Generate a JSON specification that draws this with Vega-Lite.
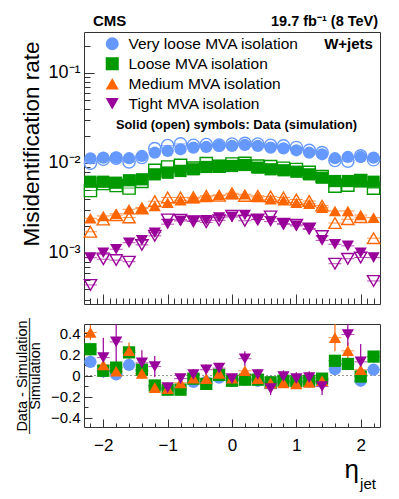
{
  "$schema": "https://vega.github.io/schema/vega-lite/v6.json",
  "background": "white",
  "padding": {"left": 13, "top": 13, "right": 5, "bottom": 0},
  "spacing": 20,
  "bounds": "flush",
  "resolve": {"scale": {"color": "independent", "shape": "independent"}, "legend": {"color": "independent", "shape": "independent"}},
  "config": {
    "font": "Liberation Sans",
    "view": {"stroke": "#333333", "strokeWidth": 1},
    "axis": {"grid": false, "domain": false, "tickColor": "#333333", "labelColor": "black", "titleColor": "black", "titleFontWeight": "normal"}
  },
  "datasets": {
    "rates": [
      {"eta": -2.2, "iso": "VL", "data": 0.01127, "sim": 0.00997},
      {"eta": -2.0, "iso": "VL", "data": 0.01145, "sim": 0.01101},
      {"eta": -1.8, "iso": "VL", "data": 0.01145, "sim": 0.01134},
      {"eta": -1.6, "iso": "VL", "data": 0.0113, "sim": 0.01027},
      {"eta": -1.4, "iso": "VL", "data": 0.01196, "sim": 0.0115},
      {"eta": -1.2, "iso": "VL", "data": 0.013, "sim": 0.01444},
      {"eta": -1.0, "iso": "VL", "data": 0.0136, "sim": 0.01563},
      {"eta": -0.8, "iso": "VL", "data": 0.0142, "sim": 0.01632},
      {"eta": -0.6, "iso": "VL", "data": 0.0148, "sim": 0.01574},
      {"eta": -0.4, "iso": "VL", "data": 0.01507, "sim": 0.01603},
      {"eta": -0.2, "iso": "VL", "data": 0.01545, "sim": 0.01577},
      {"eta": 0.0, "iso": "VL", "data": 0.01545, "sim": 0.01626},
      {"eta": 0.2, "iso": "VL", "data": 0.01585, "sim": 0.01651},
      {"eta": 0.4, "iso": "VL", "data": 0.01545, "sim": 0.01626},
      {"eta": 0.6, "iso": "VL", "data": 0.0148, "sim": 0.01574},
      {"eta": 0.8, "iso": "VL", "data": 0.01456, "sim": 0.01549},
      {"eta": 1.0, "iso": "VL", "data": 0.01384, "sim": 0.01488},
      {"eta": 1.2, "iso": "VL", "data": 0.013, "sim": 0.01383},
      {"eta": 1.4, "iso": "VL", "data": 0.0125, "sim": 0.01302},
      {"eta": 1.6, "iso": "VL", "data": 0.0113, "sim": 0.01066},
      {"eta": 1.8, "iso": "VL", "data": 0.01166, "sim": 0.0105},
      {"eta": 2.0, "iso": "VL", "data": 0.01166, "sim": 0.012},
      {"eta": 2.2, "iso": "VL", "data": 0.01145, "sim": 0.01085},
      {"eta": -2.2, "iso": "L", "data": 0.00619, "sim": 0.00495},
      {"eta": -2.0, "iso": "L", "data": 0.00619, "sim": 0.00592},
      {"eta": -1.8, "iso": "L", "data": 0.00604, "sim": 0.00562},
      {"eta": -1.6, "iso": "L", "data": 0.00643, "sim": 0.00527},
      {"eta": -1.4, "iso": "L", "data": 0.00659, "sim": 0.00625},
      {"eta": -1.2, "iso": "L", "data": 0.00748, "sim": 0.00827},
      {"eta": -1.0, "iso": "L", "data": 0.0078, "sim": 0.00902},
      {"eta": -0.8, "iso": "L", "data": 0.00815, "sim": 0.00942},
      {"eta": -0.6, "iso": "L", "data": 0.00851, "sim": 0.00877},
      {"eta": -0.4, "iso": "L", "data": 0.00903, "sim": 0.00982},
      {"eta": -0.2, "iso": "L", "data": 0.00926, "sim": 0.00921},
      {"eta": 0.0, "iso": "L", "data": 0.00926, "sim": 0.00975},
      {"eta": 0.2, "iso": "L", "data": 0.0095, "sim": 0.0099},
      {"eta": 0.4, "iso": "L", "data": 0.00887, "sim": 0.00924},
      {"eta": 0.6, "iso": "L", "data": 0.00851, "sim": 0.0091},
      {"eta": 0.8, "iso": "L", "data": 0.0083, "sim": 0.00874},
      {"eta": 1.0, "iso": "L", "data": 0.008, "sim": 0.00847},
      {"eta": 1.2, "iso": "L", "data": 0.00748, "sim": 0.00787},
      {"eta": 1.4, "iso": "L", "data": 0.00687, "sim": 0.00708},
      {"eta": 1.6, "iso": "L", "data": 0.0063, "sim": 0.00553},
      {"eta": 1.8, "iso": "L", "data": 0.0063, "sim": 0.00568},
      {"eta": 2.0, "iso": "L", "data": 0.0063, "sim": 0.00636},
      {"eta": 2.2, "iso": "L", "data": 0.00619, "sim": 0.00525},
      {"eta": -2.2, "iso": "M", "data": 0.00243, "sim": 0.00172},
      {"eta": -2.0, "iso": "M", "data": 0.00258, "sim": 0.00235},
      {"eta": -1.8, "iso": "M", "data": 0.00273, "sim": 0.00263},
      {"eta": -1.6, "iso": "M", "data": 0.00306, "sim": 0.00248},
      {"eta": -1.4, "iso": "M", "data": 0.00319, "sim": 0.00313},
      {"eta": -1.2, "iso": "M", "data": 0.00333, "sim": 0.00376},
      {"eta": -1.0, "iso": "M", "data": 0.00362, "sim": 0.00414},
      {"eta": -0.8, "iso": "M", "data": 0.00385, "sim": 0.00414},
      {"eta": -0.6, "iso": "M", "data": 0.00406, "sim": 0.00416},
      {"eta": -0.4, "iso": "M", "data": 0.00419, "sim": 0.00432},
      {"eta": -0.2, "iso": "M", "data": 0.00441, "sim": 0.00432},
      {"eta": 0.0, "iso": "M", "data": 0.00449, "sim": 0.00461},
      {"eta": 0.2, "iso": "M", "data": 0.00449, "sim": 0.0043},
      {"eta": 0.4, "iso": "M", "data": 0.00419, "sim": 0.00432},
      {"eta": 0.6, "iso": "M", "data": 0.00395, "sim": 0.00425},
      {"eta": 0.8, "iso": "M", "data": 0.00385, "sim": 0.00414},
      {"eta": 1.0, "iso": "M", "data": 0.00362, "sim": 0.00393},
      {"eta": 1.2, "iso": "M", "data": 0.00353, "sim": 0.00378},
      {"eta": 1.4, "iso": "M", "data": 0.00319, "sim": 0.00336},
      {"eta": 1.6, "iso": "M", "data": 0.00293, "sim": 0.00215},
      {"eta": 1.8, "iso": "M", "data": 0.00293, "sim": 0.00237},
      {"eta": 2.0, "iso": "M", "data": 0.00264, "sim": 0.0025},
      {"eta": 2.2, "iso": "M", "data": 0.00247, "sim": 0.00146},
      {"eta": -2.2, "iso": "T", "data": 0.000887, "sim": 0.000441},
      {"eta": -2.0, "iso": "T", "data": 0.001007, "sim": 0.000853},
      {"eta": -1.8, "iso": "T", "data": 0.0011, "sim": 0.000833},
      {"eta": -1.6, "iso": "T", "data": 0.0013, "sim": 0.0008},
      {"eta": -1.4, "iso": "T", "data": 0.00138, "sim": 0.00123},
      {"eta": -1.2, "iso": "T", "data": 0.00168, "sim": 0.00155},
      {"eta": -1.0, "iso": "T", "data": 0.00209, "sim": 0.00236},
      {"eta": -0.8, "iso": "T", "data": 0.00227, "sim": 0.00234},
      {"eta": -0.6, "iso": "T", "data": 0.00227, "sim": 0.00225},
      {"eta": -0.4, "iso": "T", "data": 0.00231, "sim": 0.00219},
      {"eta": -0.2, "iso": "T", "data": 0.00247, "sim": 0.00231},
      {"eta": 0.0, "iso": "T", "data": 0.00251, "sim": 0.00259},
      {"eta": 0.2, "iso": "T", "data": 0.00264, "sim": 0.00228},
      {"eta": 0.4, "iso": "T", "data": 0.00237, "sim": 0.00235},
      {"eta": 0.6, "iso": "T", "data": 0.00223, "sim": 0.00255},
      {"eta": 0.8, "iso": "T", "data": 0.00209, "sim": 0.00211},
      {"eta": 1.0, "iso": "T", "data": 0.002, "sim": 0.00206},
      {"eta": 1.2, "iso": "T", "data": 0.00183, "sim": 0.00187},
      {"eta": 1.4, "iso": "T", "data": 0.00138, "sim": 0.00154},
      {"eta": 1.6, "iso": "T", "data": 0.00125, "sim": 0.00076},
      {"eta": 1.8, "iso": "T", "data": 0.0012, "sim": 0.000863},
      {"eta": 2.0, "iso": "T", "data": 0.001007, "sim": 0.000891},
      {"eta": 2.2, "iso": "T", "data": 0.000887, "sim": 0.000489}
    ],
    "ratio": [
      {"eta": -2.2, "iso": "VL", "r": 0.13, "e": 0.02},
      {"eta": -2.0, "iso": "VL", "r": 0.04, "e": 0.02},
      {"eta": -1.8, "iso": "VL", "r": 0.01, "e": 0.02},
      {"eta": -1.6, "iso": "VL", "r": 0.1, "e": 0.02},
      {"eta": -1.4, "iso": "VL", "r": 0.04, "e": 0.02},
      {"eta": -1.2, "iso": "VL", "r": -0.1, "e": 0.02},
      {"eta": -1.0, "iso": "VL", "r": -0.13, "e": 0.02},
      {"eta": -0.8, "iso": "VL", "r": -0.13, "e": 0.02},
      {"eta": -0.6, "iso": "VL", "r": -0.06, "e": 0.02},
      {"eta": -0.4, "iso": "VL", "r": -0.06, "e": 0.02},
      {"eta": -0.2, "iso": "VL", "r": -0.02, "e": 0.02},
      {"eta": 0.0, "iso": "VL", "r": -0.05, "e": 0.02},
      {"eta": 0.2, "iso": "VL", "r": -0.04, "e": 0.02},
      {"eta": 0.4, "iso": "VL", "r": -0.05, "e": 0.02},
      {"eta": 0.6, "iso": "VL", "r": -0.06, "e": 0.02},
      {"eta": 0.8, "iso": "VL", "r": -0.06, "e": 0.02},
      {"eta": 1.0, "iso": "VL", "r": -0.07, "e": 0.02},
      {"eta": 1.2, "iso": "VL", "r": -0.06, "e": 0.02},
      {"eta": 1.4, "iso": "VL", "r": -0.04, "e": 0.02},
      {"eta": 1.6, "iso": "VL", "r": 0.06, "e": 0.02},
      {"eta": 1.8, "iso": "VL", "r": 0.11, "e": 0.02},
      {"eta": 2.0, "iso": "VL", "r": -0.05, "e": 0.02},
      {"eta": 2.2, "iso": "VL", "r": 0.055, "e": 0.02},
      {"eta": -2.2, "iso": "L", "r": 0.25, "e": 0.06},
      {"eta": -2.0, "iso": "L", "r": 0.045, "e": 0.03},
      {"eta": -1.8, "iso": "L", "r": 0.075, "e": 0.03},
      {"eta": -1.6, "iso": "L", "r": 0.22, "e": 0.05},
      {"eta": -1.4, "iso": "L", "r": 0.055, "e": 0.03},
      {"eta": -1.2, "iso": "L", "r": -0.095, "e": 0.03},
      {"eta": -1.0, "iso": "L", "r": -0.135, "e": 0.03},
      {"eta": -0.8, "iso": "L", "r": -0.135, "e": 0.03},
      {"eta": -0.6, "iso": "L", "r": -0.03, "e": 0.03},
      {"eta": -0.4, "iso": "L", "r": -0.08, "e": 0.03},
      {"eta": -0.2, "iso": "L", "r": 0.005, "e": 0.03},
      {"eta": 0.0, "iso": "L", "r": -0.05, "e": 0.03},
      {"eta": 0.2, "iso": "L", "r": -0.04, "e": 0.03},
      {"eta": 0.4, "iso": "L", "r": -0.04, "e": 0.03},
      {"eta": 0.6, "iso": "L", "r": -0.065, "e": 0.03},
      {"eta": 0.8, "iso": "L", "r": -0.05, "e": 0.03},
      {"eta": 1.0, "iso": "L", "r": -0.055, "e": 0.03},
      {"eta": 1.2, "iso": "L", "r": -0.05, "e": 0.03},
      {"eta": 1.4, "iso": "L", "r": -0.03, "e": 0.03},
      {"eta": 1.6, "iso": "L", "r": 0.14, "e": 0.04},
      {"eta": 1.8, "iso": "L", "r": 0.11, "e": 0.04},
      {"eta": 2.0, "iso": "L", "r": -0.01, "e": 0.03},
      {"eta": 2.2, "iso": "L", "r": 0.18, "e": 0.05},
      {"eta": -2.2, "iso": "M", "r": 0.41, "e": 0.07},
      {"eta": -2.0, "iso": "M", "r": 0.1, "e": 0.05},
      {"eta": -1.8, "iso": "M", "r": 0.04, "e": 0.05},
      {"eta": -1.6, "iso": "M", "r": 0.235, "e": 0.08},
      {"eta": -1.4, "iso": "M", "r": 0.02, "e": 0.05},
      {"eta": -1.2, "iso": "M", "r": -0.115, "e": 0.04},
      {"eta": -1.0, "iso": "M", "r": -0.125, "e": 0.04},
      {"eta": -0.8, "iso": "M", "r": -0.07, "e": 0.04},
      {"eta": -0.6, "iso": "M", "r": -0.025, "e": 0.03},
      {"eta": -0.4, "iso": "M", "r": -0.03, "e": 0.03},
      {"eta": -0.2, "iso": "M", "r": 0.02, "e": 0.03},
      {"eta": 0.0, "iso": "M", "r": -0.025, "e": 0.03},
      {"eta": 0.2, "iso": "M", "r": 0.045, "e": 0.04},
      {"eta": 0.4, "iso": "M", "r": -0.03, "e": 0.03},
      {"eta": 0.6, "iso": "M", "r": -0.07, "e": 0.03},
      {"eta": 0.8, "iso": "M", "r": -0.07, "e": 0.03},
      {"eta": 1.0, "iso": "M", "r": -0.08, "e": 0.03},
      {"eta": 1.2, "iso": "M", "r": -0.065, "e": 0.04},
      {"eta": 1.4, "iso": "M", "r": -0.05, "e": 0.04},
      {"eta": 1.6, "iso": "M", "r": 0.36, "e": 0.13},
      {"eta": 1.8, "iso": "M", "r": 0.235, "e": 0.08},
      {"eta": 2.0, "iso": "M", "r": 0.055, "e": 0.08},
      {"eta": -2.0, "iso": "T", "r": 0.17, "e": 0.19},
      {"eta": -1.8, "iso": "T", "r": 0.32, "e": 0.2},
      {"eta": -1.4, "iso": "T", "r": 0.12, "e": 0.12},
      {"eta": -1.2, "iso": "T", "r": 0.085, "e": 0.1},
      {"eta": -1.0, "iso": "T", "r": -0.115, "e": 0.04},
      {"eta": -0.8, "iso": "T", "r": -0.03, "e": 0.05},
      {"eta": -0.6, "iso": "T", "r": 0.01, "e": 0.05},
      {"eta": -0.4, "iso": "T", "r": 0.055, "e": 0.05},
      {"eta": -0.2, "iso": "T", "r": 0.07, "e": 0.05},
      {"eta": 0.0, "iso": "T", "r": -0.03, "e": 0.04},
      {"eta": 0.2, "iso": "T", "r": 0.16, "e": 0.07},
      {"eta": 0.4, "iso": "T", "r": 0.01, "e": 0.05},
      {"eta": 0.6, "iso": "T", "r": -0.125, "e": 0.06},
      {"eta": 0.8, "iso": "T", "r": -0.01, "e": 0.06},
      {"eta": 1.0, "iso": "T", "r": -0.03, "e": 0.06},
      {"eta": 1.2, "iso": "T", "r": -0.02, "e": 0.06},
      {"eta": 1.4, "iso": "T", "r": -0.105, "e": 0.08},
      {"eta": 1.8, "iso": "T", "r": 0.39, "e": 0.11},
      {"eta": 2.0, "iso": "T", "r": 0.13, "e": 0.17}
    ]
  },
  "vconcat": [
    {
      "width": 296,
      "height": 272,
      "resolve": {"axis": {"x": "independent", "y": "independent"}},
      "layer": [
        {
          "data": {"name": "rates"},
          "mark": {"type": "point", "filled": true, "size": 150, "opacity": 1},
          "encoding": {
            "x": {"field": "eta", "type": "quantitative", "scale": {"domain": [-2.3, 2.3], "nice": false, "zero": false}, "axis": null},
            "y": {"field": "data", "type": "quantitative", "scale": {"type": "log", "domain": [0.000271, 0.2855], "nice": false},
              "axis": {"orient": "left", "values": [0.001, 0.01, 0.1], "ticks": false, "labelFontSize": 18, "labelPadding": 4,
                "labelExpr": "datum.value == 0.1 ? '10⁻¹' : datum.value == 0.01 ? '10⁻²' : '10⁻³'",
                "title": "Misidentification rate", "titleFontSize": 22.5, "titleAngle": -90, "titleAlign": "right", "titleAnchor": "end",
                "titleBaseline": "alphabetic", "titleX": -46, "titleY": 9}},
            "color": {"field": "iso", "type": "nominal", "scale": {"domain": ["VL","L","M","T"], "range": ["#6699ff","#009900","#ff6600","#990099"]},
              "legend": {"orient": "none", "legendX": 20.5, "legendY": 4, "title": null, "padding": 0, "labelFontSize": 15.5, "symbolSize": 170,
                "rowPadding": 3, "labelOffset": 8.5, "labelLimit": 0, "symbolStrokeWidth": 0, "labelColor": "black",
                "labelExpr": "datum.label == 'VL' ? 'Very loose MVA isolation' : datum.label == 'L' ? 'Loose MVA isolation' : datum.label == 'M' ? 'Medium MVA isolation' : 'Tight MVA isolation'"}},
            "shape": {"field": "iso", "type": "nominal", "scale": {"domain": ["VL","L","M","T"], "range": ["circle","square","triangle-up","triangle-down"]},
              "legend": {"orient": "none", "legendX": 20.5, "legendY": 4, "title": null, "padding": 0, "labelFontSize": 15.5, "symbolSize": 170,
                "rowPadding": 3, "labelOffset": 8.5, "labelLimit": 0, "symbolStrokeWidth": 0, "labelColor": "black",
                "labelExpr": "datum.label == 'VL' ? 'Very loose MVA isolation' : datum.label == 'L' ? 'Loose MVA isolation' : datum.label == 'M' ? 'Medium MVA isolation' : 'Tight MVA isolation'"}}
          }
        },
        {
          "data": {"name": "rates"},
          "mark": {"type": "tick", "orient": "horizontal", "size": 13, "thickness": 1},
          "encoding": {
            "x": {"field": "eta", "type": "quantitative",
              "axis": {"orient": "bottom", "values": [-2.2,-2.1,-2,-1.9,-1.8,-1.7,-1.6,-1.5,-1.4,-1.3,-1.2,-1.1,-1,-0.9,-0.8,-0.7,-0.6,-0.5,-0.4,-0.3,-0.2,-0.1,0,0.1,0.2,0.3,0.4,0.5,0.6,0.7,0.8,0.9,1,1.1,1.2,1.3,1.4,1.5,1.6,1.7,1.8,1.9,2,2.1,2.2], "labels": false, "tickSize": -6, "title": null}},
            "y": {"field": "sim", "type": "quantitative",
              "axis": {"orient": "left", "values": [0.0003,0.0004,0.0005,0.0006,0.0007,0.0008,0.0009,0.002,0.003,0.004,0.005,0.006,0.007,0.008,0.009,0.02,0.03,0.04,0.05,0.06,0.07,0.08,0.09,0.2], "labels": false, "tickSize": -6, "title": null}},
            "color": {"field": "iso", "type": "nominal", "legend": null}
          }
        },
        {
          "data": {"name": "rates"},
          "mark": {"type": "tick", "orient": "horizontal", "size": 13, "thickness": 1},
          "encoding": {
            "x": {"field": "eta", "type": "quantitative", "axis": null},
            "y": {"field": "data", "type": "quantitative", "axis": null},
            "color": {"field": "iso", "type": "nominal", "legend": null}
          }
        },
        {
          "data": {"name": "rates"},
          "mark": {"type": "point", "filled": false, "size": 150, "strokeWidth": 1.4, "opacity": 1},
          "encoding": {
            "x": {"field": "eta", "type": "quantitative",
              "axis": {"orient": "bottom", "values": [-2,-1,0,1,2], "labels": false, "tickSize": -10, "title": null}},
            "y": {"field": "sim", "type": "quantitative",
              "axis": {"orient": "left", "values": [0.001, 0.01, 0.1], "labels": false, "tickSize": -10, "title": null}},
            "color": {"field": "iso", "type": "nominal", "legend": null},
            "shape": {"field": "iso", "type": "nominal", "legend": null}
          }
        },
        {
          "data": {"values": [{}]},
          "mark": {"type": "text", "align": "left", "baseline": "alphabetic", "fontWeight": "bold", "fontSize": 15},
          "encoding": {"x": {"datum": -2.16, "axis": null}, "y": {"datum": 0.3325, "axis": null}, "text": {"value": "CMS"}}
        },
        {
          "data": {"values": [{}]},
          "mark": {"type": "text", "align": "right", "baseline": "alphabetic", "fontWeight": "bold", "fontSize": 14.5},
          "encoding": {"x": {"datum": 2.27, "axis": null}, "y": {"datum": 0.3325, "axis": null}, "text": {"value": "19.7 fb⁻¹ (8 TeV)"}}
        },
        {
          "data": {"values": [{}]},
          "mark": {"type": "text", "align": "right", "baseline": "alphabetic", "fontWeight": "bold", "fontSize": 15},
          "encoding": {"x": {"datum": 2.19, "axis": null}, "y": {"datum": 0.185, "axis": null}, "text": {"value": "W+jets"}}
        },
        {
          "data": {"values": [{}]},
          "mark": {"type": "text", "align": "center", "baseline": "middle", "fontWeight": "bold", "fontSize": 12.8},
          "encoding": {"x": {"datum": 0.07, "axis": null}, "y": {"datum": 0.0264, "axis": null}, "text": {"value": "Solid (open) symbols: Data (simulation)"}}
        }
      ]
    },
    {
      "width": 296,
      "height": 103,
      "resolve": {"axis": {"x": "independent", "y": "independent"}},
      "layer": [
        {
          "data": {"values": [{}]},
          "mark": {"type": "rule", "color": "#999999", "strokeDash": [2, 2], "strokeWidth": 1},
          "encoding": {"y": {"datum": 0, "scale": {"domain": [-0.49, 0.49], "nice": false, "zero": false}, "axis": null}}
        },
        {
          "data": {"name": "ratio"},
          "mark": {"type": "errorbar", "clip": true, "thickness": 1.2},
          "encoding": {
            "x": {"field": "eta", "type": "quantitative", "scale": {"domain": [-2.3, 2.3], "nice": false, "zero": false},
              "axis": {"orient": "bottom", "values": [-2,-1,0,1,2], "labels": false, "tickSize": -8, "title": null}},
            "y": {"field": "r", "type": "quantitative",
              "axis": {"orient": "left", "values": [-0.4,-0.2,0,0.2,0.4], "labels": false, "tickSize": -8, "title": null}},
            "yError": {"field": "e"},
            "color": {"field": "iso", "type": "nominal", "scale": {"domain": ["VL","L","M","T"], "range": ["#6699ff","#009900","#ff6600","#990099"]}, "legend": null}
          }
        },
        {
          "data": {"name": "ratio"},
          "mark": {"type": "tick", "orient": "horizontal", "size": 13, "thickness": 1, "clip": true},
          "encoding": {
            "x": {"field": "eta", "type": "quantitative",
              "axis": {"orient": "bottom", "values": [-2.2,-2,-1.8,-1.6,-1.4,-1.2,-1,-0.8,-0.6,-0.4,-0.2,0,0.2,0.4,0.6,0.8,1,1.2,1.4,1.6,1.8,2,2.2], "labels": false, "tickSize": -4, "title": null}},
            "y": {"field": "r", "type": "quantitative",
              "axis": {"orient": "left", "values": [-0.4,-0.3,-0.2,-0.1,0,0.1,0.2,0.3,0.4], "labels": false, "tickSize": -4, "title": null}},
            "color": {"field": "iso", "type": "nominal", "legend": null}
          }
        },
        {
          "data": {"name": "ratio"},
          "mark": {"type": "point", "filled": true, "size": 150, "opacity": 1, "clip": true},
          "encoding": {
            "x": {"field": "eta", "type": "quantitative",
              "axis": {"orient": "bottom", "values": [-2,-1,0,1,2], "ticks": false, "labelFontSize": 17, "labelPadding": 10, "title": null}},
            "y": {"field": "r", "type": "quantitative",
              "axis": {"orient": "left", "values": [-0.4,-0.2,0,0.2,0.4], "ticks": false, "labelFontSize": 15, "labelPadding": 4,
                "labelExpr": "datum.value == 0 ? '0' : format(datum.value, '.1f')",
                "title": ["Data - Simulation", "————————", "Simulation"], "titleFontSize": 14.5, "titleLineHeight": 6.5,
                "titleAngle": -90, "titleAlign": "center", "titleBaseline": "alphabetic", "titleX": -58, "titleY": 51.5}},
            "color": {"field": "iso", "type": "nominal", "legend": null},
            "shape": {"field": "iso", "type": "nominal", "scale": {"domain": ["VL","L","M","T"], "range": ["circle","square","triangle-up","triangle-down"]}, "legend": null}
          }
        },
        {
          "data": {"values": [{}]},
          "mark": {"type": "text", "align": "right", "baseline": "alphabetic", "fontSize": 26},
          "encoding": {"x": {"datum": 1.973, "axis": null}, "y": {"datum": -0.971, "axis": null}, "text": {"value": "η"}}
        },
        {
          "data": {"values": [{}]},
          "mark": {"type": "text", "align": "left", "baseline": "alphabetic", "fontSize": 15},
          "encoding": {"x": {"datum": 1.99, "axis": null}, "y": {"datum": -1.076, "axis": null}, "text": {"value": "jet"}}
        }
      ]
    }
  ]
}
